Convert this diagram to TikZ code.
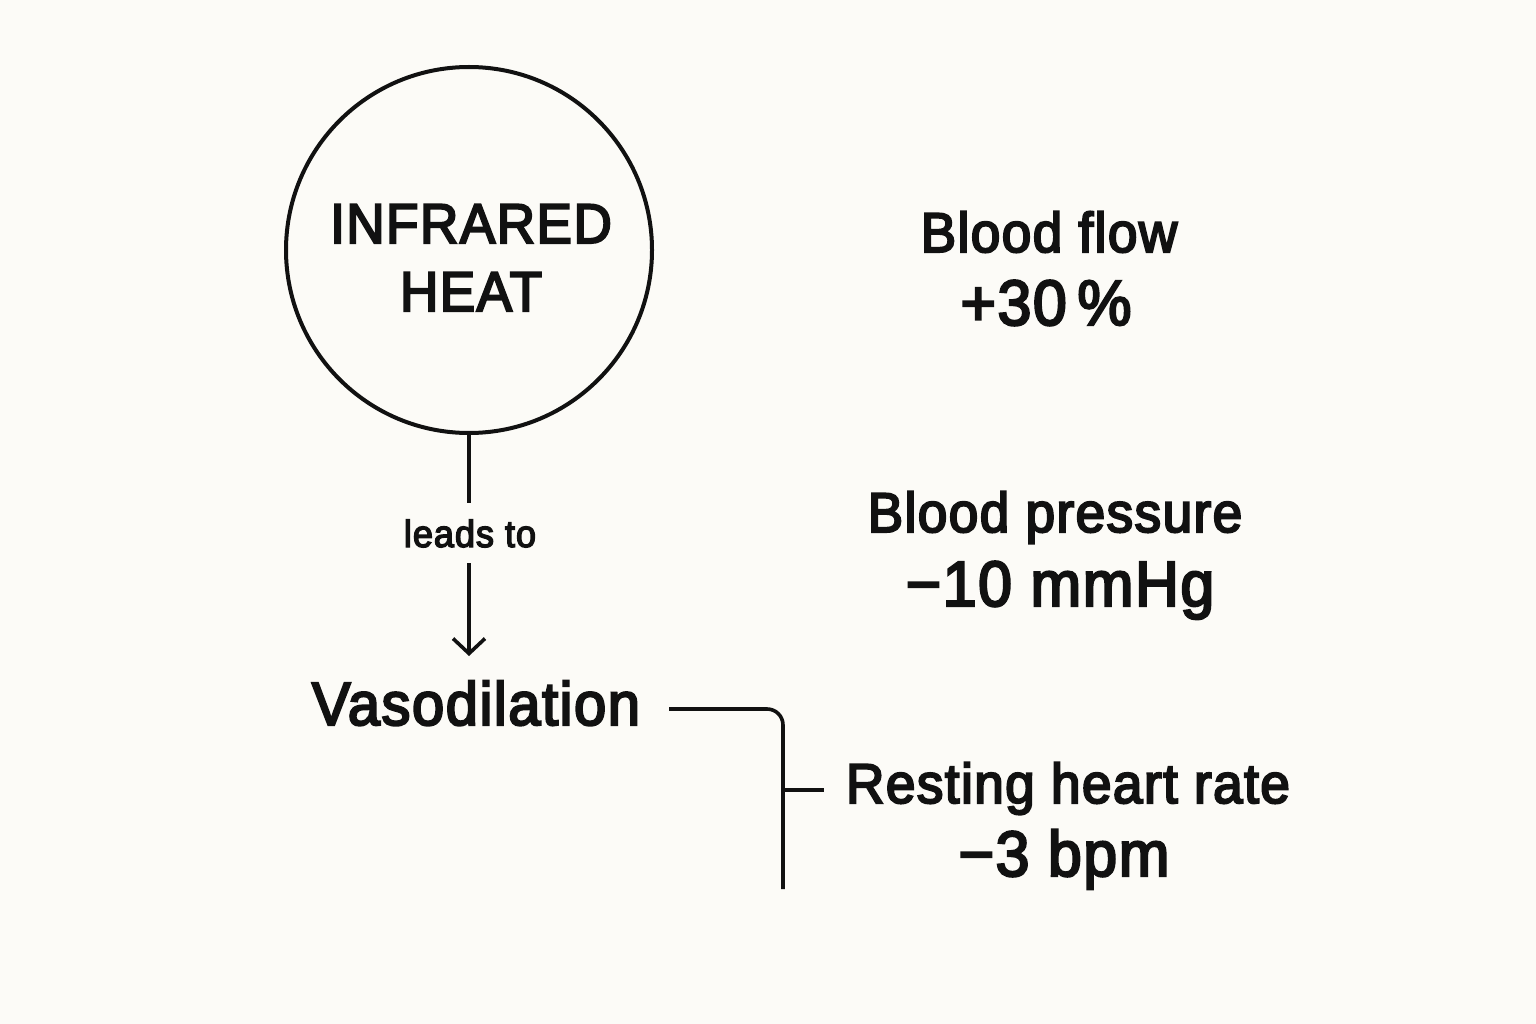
\documentclass[tikz,border=0pt]{standalone}
\usepackage{fontspec}
\setmainfont{Liberation Sans}[FakeBold=3.6,FakeStretch=0.95,LetterSpace=2.5]
\usetikzlibrary{arrows.meta}
\definecolor{bg}{HTML}{FCFBF7}
\definecolor{ink}{HTML}{111111}
\begin{document}
\begin{tikzpicture}[x=1pt,y=-1pt,
  txt/.style={inner sep=0pt,anchor=base,text=ink},
  conn/.style={draw=ink,line width=3.6pt},
  big/.style={txt,font=\fontsize{56}{60}\selectfont},
  val/.style={txt,font=\fontsize{64}{68}\selectfont}]
\fill[bg] (0,0) rectangle (1536,1024);
\useasboundingbox (0,0) rectangle (1536,1024);
\node[circle,draw=ink,line width=4pt,minimum size=366pt,inner sep=0pt] (circ) at (469,250) {};
\node[big] (inf) at (471,243) {INFRARED};
\node[big] (heat) at (471,311) {HEAT};
\node[txt,font=\fontsize{38}{42}\selectfont] (leads) at (470,547) {leads to};
\node[txt,font=\fontsize{61}{65}\selectfont] (vaso) at (476,725) {Vasodilation};
\coordinate (l1) at (469,503);
\coordinate (a0) at (469,563);
\coordinate (a1) at (469,656);
\draw[conn] (circ.south) -- (l1);
\draw[conn,-{Straight Barb[length=15pt,width=32pt]}] (a0) -- (a1);
\coordinate (b0) at (669,709);
\coordinate (b1) at (783,709);
\coordinate (b2) at (783,889);
\coordinate (t0) at (783,790);
\coordinate (t1) at (824,790);
\draw[conn,rounded corners=16pt] (b0) -- (b1) -- (b2);
\draw[conn] (t0) -- (t1);
\node[big] (bf) at (1049,252) {Blood flow};
\node[val] (bfv) at (1046,325) {+30\,\%};
\node[big] (bp) at (1055,532) {Blood pressure};
\node[val] (bpv) at (1060,606) {−10 mmHg};
\node[big] (hr) at (1068,803) {Resting heart rate};
\node[val] (hrv) at (1064,876) {−3 bpm};
\end{tikzpicture}
\end{document}
